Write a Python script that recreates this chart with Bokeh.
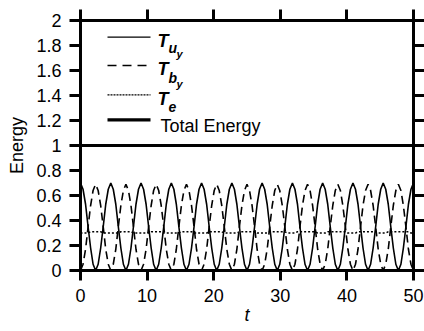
from bokeh.plotting import figure
from bokeh.models import Range1d, FixedTicker, LinearAxis, Label, BoxAnnotation
from bokeh.embed import file_html
from bokeh.resources import INLINE

# ---------------- data ----------------
t = [
    0.00, 0.38, 0.76, 1.14, 1.52, 1.89, 2.27, 2.65, 3.03, 3.41, 3.79, 4.17,
    4.55, 4.92, 5.30, 5.68, 6.06, 6.44, 6.82, 7.20, 7.58, 7.95, 8.33, 8.71,
    9.09, 9.47, 9.85, 10.23, 10.61, 10.98, 11.36, 11.74, 12.12, 12.50, 12.88, 13.26,
    13.64, 14.02, 14.39, 14.77, 15.15, 15.53, 15.91, 16.29, 16.67, 17.05, 17.42, 17.80,
    18.18, 18.56, 18.94, 19.32, 19.70, 20.08, 20.45, 20.83, 21.21, 21.59, 21.97, 22.35,
    22.73, 23.11, 23.48, 23.86, 24.24, 24.62, 25.00, 25.38, 25.76, 26.14, 26.52, 26.89,
    27.27, 27.65, 28.03, 28.41, 28.79, 29.17, 29.55, 29.92, 30.30, 30.68, 31.06, 31.44,
    31.82, 32.20, 32.58, 32.95, 33.33, 33.71, 34.09, 34.47, 34.85, 35.23, 35.61, 35.98,
    36.36, 36.74, 37.12, 37.50, 37.88, 38.26, 38.64, 39.02, 39.39, 39.77, 40.15, 40.53,
    40.91, 41.29, 41.67, 42.05, 42.42, 42.80, 43.18, 43.56, 43.94, 44.32, 44.70, 45.08,
    45.45, 45.83, 46.21, 46.59, 46.97, 47.35, 47.73, 48.11, 48.48, 48.86, 49.24, 49.62,
    50.00,
]
T_uy = [
    0.70, 0.65, 0.53, 0.35, 0.18, 0.05, 0.00, 0.05, 0.18, 0.35, 0.53, 0.65,
    0.70, 0.65, 0.53, 0.35, 0.18, 0.05, 0.00, 0.05, 0.18, 0.35, 0.53, 0.65,
    0.70, 0.65, 0.53, 0.35, 0.18, 0.05, 0.00, 0.05, 0.18, 0.35, 0.53, 0.65,
    0.70, 0.65, 0.53, 0.35, 0.18, 0.05, 0.00, 0.05, 0.18, 0.35, 0.53, 0.65,
    0.70, 0.65, 0.53, 0.35, 0.18, 0.05, 0.00, 0.05, 0.18, 0.35, 0.53, 0.65,
    0.70, 0.65, 0.53, 0.35, 0.18, 0.05, 0.00, 0.05, 0.18, 0.35, 0.53, 0.65,
    0.70, 0.65, 0.53, 0.35, 0.18, 0.05, 0.00, 0.05, 0.18, 0.35, 0.53, 0.65,
    0.70, 0.65, 0.53, 0.35, 0.18, 0.05, 0.00, 0.05, 0.18, 0.35, 0.53, 0.65,
    0.70, 0.65, 0.53, 0.35, 0.18, 0.05, 0.00, 0.05, 0.18, 0.35, 0.53, 0.65,
    0.70, 0.65, 0.53, 0.35, 0.18, 0.05, 0.00, 0.05, 0.18, 0.35, 0.53, 0.65,
    0.70, 0.65, 0.53, 0.35, 0.18, 0.05, 0.00, 0.05, 0.18, 0.35, 0.53, 0.65,
    0.70,
]
T_by = [
    0.00, 0.05, 0.17, 0.35, 0.52, 0.64, 0.69, 0.64, 0.52, 0.35, 0.17, 0.05,
    0.00, 0.05, 0.17, 0.35, 0.52, 0.64, 0.69, 0.64, 0.52, 0.35, 0.17, 0.05,
    0.00, 0.05, 0.17, 0.35, 0.52, 0.64, 0.69, 0.64, 0.52, 0.35, 0.17, 0.05,
    0.00, 0.05, 0.17, 0.35, 0.52, 0.64, 0.69, 0.64, 0.52, 0.35, 0.17, 0.05,
    0.00, 0.05, 0.17, 0.35, 0.52, 0.64, 0.69, 0.64, 0.52, 0.35, 0.17, 0.05,
    0.00, 0.05, 0.17, 0.35, 0.52, 0.64, 0.69, 0.64, 0.52, 0.35, 0.17, 0.05,
    0.00, 0.05, 0.17, 0.35, 0.52, 0.64, 0.69, 0.64, 0.52, 0.35, 0.17, 0.05,
    0.00, 0.05, 0.17, 0.35, 0.52, 0.64, 0.69, 0.64, 0.52, 0.35, 0.17, 0.05,
    0.00, 0.05, 0.17, 0.35, 0.52, 0.64, 0.69, 0.64, 0.52, 0.35, 0.17, 0.05,
    0.00, 0.05, 0.17, 0.35, 0.52, 0.64, 0.69, 0.64, 0.52, 0.35, 0.17, 0.05,
    0.00, 0.05, 0.17, 0.35, 0.52, 0.64, 0.69, 0.64, 0.52, 0.35, 0.17, 0.05,
    0.00,
]
T_e = [
    0.30, 0.30, 0.30, 0.30, 0.31, 0.31, 0.31, 0.31, 0.31, 0.30, 0.30, 0.30,
    0.30, 0.30, 0.30, 0.30, 0.31, 0.31, 0.31, 0.31, 0.31, 0.30, 0.30, 0.30,
    0.30, 0.30, 0.30, 0.30, 0.31, 0.31, 0.31, 0.31, 0.31, 0.30, 0.30, 0.30,
    0.30, 0.30, 0.30, 0.30, 0.31, 0.31, 0.31, 0.31, 0.31, 0.30, 0.30, 0.30,
    0.30, 0.30, 0.30, 0.31, 0.31, 0.31, 0.31, 0.31, 0.31, 0.30, 0.30, 0.30,
    0.30, 0.30, 0.30, 0.31, 0.31, 0.31, 0.31, 0.31, 0.31, 0.31, 0.30, 0.30,
    0.30, 0.30, 0.30, 0.31, 0.31, 0.31, 0.31, 0.31, 0.31, 0.31, 0.30, 0.30,
    0.30, 0.30, 0.31, 0.31, 0.31, 0.31, 0.31, 0.31, 0.31, 0.31, 0.30, 0.30,
    0.30, 0.30, 0.31, 0.31, 0.31, 0.31, 0.31, 0.31, 0.31, 0.31, 0.30, 0.30,
    0.30, 0.30, 0.31, 0.31, 0.31, 0.31, 0.31, 0.31, 0.31, 0.31, 0.30, 0.30,
    0.30, 0.30, 0.31, 0.31, 0.31, 0.31, 0.31, 0.31, 0.31, 0.31, 0.31, 0.30,
    0.30,
]
total_t = [0, 50]
total_energy = [1.0, 1.0]

x_ticks = [0, 10, 20, 30, 40, 50]
x_tick_labels = ["0", "10", "20", "30", "40", "50"]
y_ticks = [0, 0.2, 0.4, 0.6, 0.8, 1, 1.2, 1.4, 1.6, 1.8, 2]
y_tick_labels = ["0", "0.2", "0.4", "0.6", "0.8", "1", "1.2", "1.4", "1.6", "1.8", "2"]

series_names = ["T_uy", "T_by", "T_e", "Total Energy"]

# ---------------- figure ----------------
FONT = "Liberation Sans"
INK = "#010101"
W, H = 424, 331
FL, FR, FT, FB = 80, 11, 20, 61
X0, X1, Y0, Y1 = 0, 50, 0, 2

p = figure(width=W, height=H, output_backend="svg", toolbar_location=None,
           x_range=Range1d(X0, X1), y_range=Range1d(Y0, Y1),
           min_border_left=FL, min_border_right=FR,
           min_border_top=FT, min_border_bottom=FB,
           x_axis_label="t", y_axis_label="Energy")
p.xgrid.visible = False
p.ygrid.visible = False
p.outline_line_color = INK
p.outline_line_width = 3


def style_axis(ax, ticks, labels, tick_out, show, standoff):
    ax.ticker = FixedTicker(ticks=ticks, minor_ticks=[])
    ax.major_label_overrides = {tk: lb for tk, lb in zip(ticks, labels)}
    ax.axis_line_color = None
    ax.major_tick_line_width = 3
    ax.major_tick_line_color = INK
    ax.major_tick_in = 0
    ax.major_tick_out = tick_out
    ax.minor_tick_in = 0
    ax.minor_tick_out = 0
    ax.major_label_text_font = FONT
    ax.major_label_text_font_size = "18px"
    ax.major_label_text_color = "#000000" if show else None
    ax.major_label_standoff = standoff


xa = p.xaxis[0]
ya = p.yaxis[0]
style_axis(xa, x_ticks, x_tick_labels, 10, True, 8)
style_axis(ya, y_ticks, y_tick_labels, 11, True, 8)
for ax in (xa, ya):
    ax.axis_label_text_font = FONT
    ax.axis_label_text_font_size = "18px"
    ax.axis_label_text_color = "#000000"
xa.axis_label_text_font_style = "italic"
xa.axis_label_standoff = 0
ya.axis_label_text_font_style = "normal"
ya.axis_label_standoff = 6

top = LinearAxis()
style_axis(top, x_ticks, [" "] * len(x_ticks), 11, False, 0)
p.add_layout(top, "above")
right = LinearAxis()
style_axis(right, y_ticks, [" "] * len(y_ticks), 11, False, 0)
p.add_layout(right, "right")

# ---------------- series ----------------
p.line(t, T_uy, line_color=INK, line_width=1.6)
p.line(t, T_by, line_color=INK, line_width=1.6, line_dash="8 5")
p.line(t, T_e, line_color=INK, line_width=1.5, line_dash="2 2")
p.line(total_t, total_energy, line_color=INK, line_width=3)

# ---------------- pixel helpers ----------------
XS = (X1 - X0) / (W - FL - FR)   # data units per pixel
YS = (Y1 - Y0) / (H - FT - FB)


def dx(px):
    return X0 + (px - FL) * XS


def dy(py):
    return Y0 + (H - FB - py) * YS


# ---------------- outward tick marks on all four sides ----------------
def tick_box(left, right, bottom, top_):
    p.add_layout(BoxAnnotation(left=left, right=right, bottom=bottom, top=top_,
                               fill_color="#000000", fill_alpha=1.0,
                               line_color=None, level="annotation"))


HW_X = 1.5 * XS
HW_Y = 1.5 * YS
for xv in x_ticks:
    tick_box(xv - HW_X, xv + HW_X, Y0 - 10 * YS, Y0)   # bottom
    tick_box(xv - HW_X, xv + HW_X, Y1, Y1 + 12 * YS)   # top
for yv in y_ticks:
    tick_box(X0 - 12 * XS, X0, yv - HW_Y, yv + HW_Y)   # left
    tick_box(X1, X1 + 11 * XS, yv - HW_Y, yv + HW_Y)   # right

# ---------------- legend (hand drawn) ----------------
leg_rows = [
    (36.7, "", 1.3),
    (65.0, "9 6", 1.3),
    (94.3, "2 1", 1.3),
    (119.3, "", 3.3),
]
for py, dash, lw in leg_rows:
    kw = dict(line_color=INK, line_width=lw)
    if dash:
        kw["line_dash"] = dash
    p.line([dx(107), dx(150)], [dy(py), dy(py)], **kw)


def lab(text, px, py, size, style):
    p.add_layout(Label(x=dx(px), y=dy(py), text=text, text_font=FONT,
                       text_font_size=size, text_font_style=style,
                       text_color="#000000", text_align="left",
                       text_baseline="alphabetic"))


lab("T", 157, 40, "18px", "bold italic")
lab("u", 168, 47.5, "14px", "bold italic")
lab("y", 176, 53, "11px", "bold italic")
lab("T", 157, 68.3, "18px", "bold italic")
lab("b", 168, 77.5, "14px", "bold italic")
lab("y", 176, 83, "11px", "bold italic")
lab("T", 157, 98.3, "18px", "bold italic")
lab("e", 168, 106.5, "14px", "bold italic")
lab("Total Energy", 160, 125, "18px", "normal")

open("out.html", "w").write(file_html(p, INLINE))
